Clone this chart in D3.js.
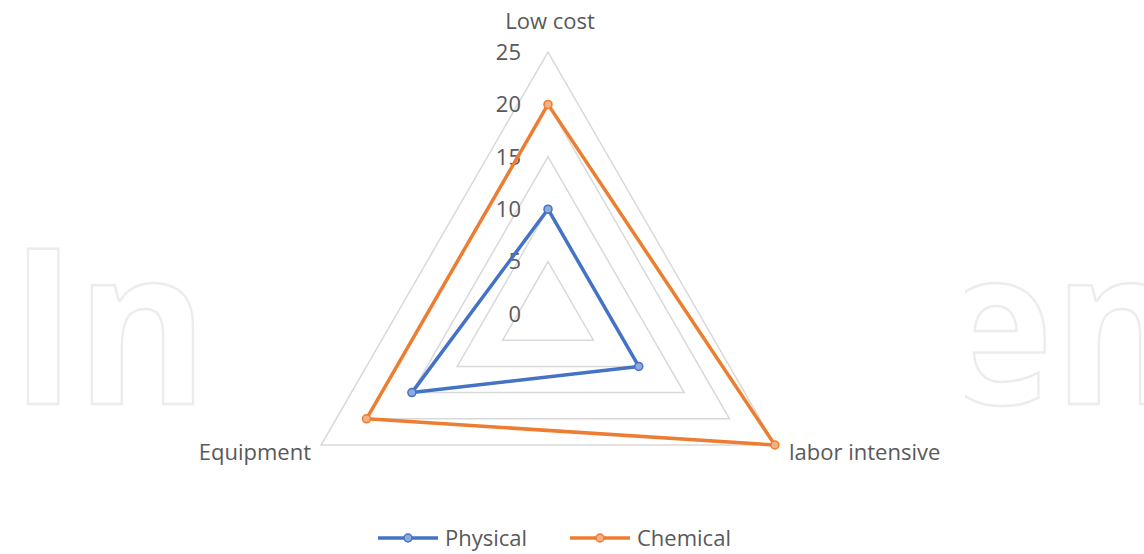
<!DOCTYPE html>
<html><head><meta charset="utf-8">
<script src="https://cdn.jsdelivr.net/npm/d3@7"></script>
<style>body{margin:0;background:#fff}svg{display:block}text{font-family:"Open Sans","DejaVu Sans",sans-serif}</style>
</head><body>
<svg id="c" width="1144" height="554"></svg>
<script>
const axes = ["Low cost", "labor intensive", "Equipment"];
const physical = [10, 10, 15];
const chemical = [20, 25, 20];
const ticks = [0, 5, 10, 15, 20, 25];
const seriesNames = ["Physical", "Chemical"];
const colors = ["#4472C4", "#ED7D31"];
const markerFill = ["#8FAADC", "#F4B183"];

const svg = d3.select("#c");
const W = 1144, H = 554;
// watermark (outlined, hidden behind the plot area)
svg.append("text").attr("x", 10).attr("y", 404)
  .attr("font-size", 218).attr("font-weight", 700).attr("font-family", "Lato, 'Open Sans', sans-serif")
  .attr("textLength", 1175).attr("lengthAdjust", "spacingAndGlyphs")
  .attr("fill", "none").attr("stroke", "#ececec").attr("stroke-width", 2.5)
  .text("IntechOpen");
svg.append("rect").attr("x", 195).attr("y", 0).attr("width", 770).attr("height", H).attr("fill", "#fff");

const cx = 548, cy = 314;
const r = d3.scaleLinear().domain([0, 25]).range([0, 262]);
const angle = i => -Math.PI / 2 + i * 2 * Math.PI / 3;
const pt = (i, v) => [cx + r(v) * Math.cos(angle(i)), cy + r(v) * Math.sin(angle(i))];

// grid (first ring at 5)
ticks.filter(t => t > 0).forEach(t => {
  svg.append("polygon")
    .attr("points", axes.map((a, i) => pt(i, t).join(",")).join(" "))
    .attr("fill", "none").attr("stroke", "#d9d9d9").attr("stroke-width", 1.5);
});

// tick labels
svg.selectAll(".tick").data(ticks).enter().append("text")
  .attr("x", 521).attr("y", d => cy - r(d)).attr("dy", "0.35em")
  .attr("text-anchor", "end").attr("font-size", 22).attr("fill", "#595959")
  .text(d => d);

// axis labels
const labelPos = [
  {x: 550, y: 29, anchor: "middle"},
  {x: 789, y: 460, anchor: "start"},
  {x: 311, y: 460, anchor: "end"}
];
axes.forEach((a, i) => {
  svg.append("text").attr("x", labelPos[i].x).attr("y", labelPos[i].y)
    .attr("text-anchor", labelPos[i].anchor).attr("font-size", 22).attr("fill", "#595959")
    .text(a);
});

// series
[physical, chemical].forEach((vals, s) => {
  const pts = vals.map((v, i) => pt(i, v));
  svg.append("path").attr("d", d3.line()(pts) + "Z")
    .attr("fill", "none").attr("stroke", colors[s]).attr("stroke-width", 3.5)
    .attr("stroke-linejoin", "round");
  svg.selectAll(".m" + s).data(pts).enter().append("circle")
    .attr("cx", d => d[0]).attr("cy", d => d[1]).attr("r", 4)
    .attr("fill", markerFill[s]).attr("stroke", colors[s]).attr("stroke-width", 1.5);
});

// legend
const legX = [378, 570];
seriesNames.forEach((n, s) => {
  const g = svg.append("g").attr("transform", `translate(${legX[s]},538)`);
  g.append("line").attr("x1", 0).attr("x2", 60).attr("y1", 0).attr("y2", 0)
    .attr("stroke", colors[s]).attr("stroke-width", 3.5);
  g.append("circle").attr("cx", 30).attr("cy", 0).attr("r", 4)
    .attr("fill", markerFill[s]).attr("stroke", colors[s]).attr("stroke-width", 1.5);
  g.append("text").attr("x", 67).attr("y", 0).attr("dy", "0.35em")
    .attr("font-size", 22).attr("fill", "#595959").text(n);
});
</script>
</body></html>
